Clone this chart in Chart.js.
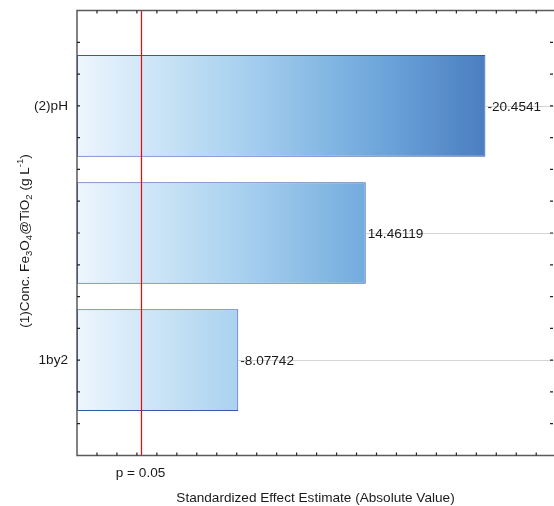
<!DOCTYPE html>
<html>
<head>
<meta charset="utf-8">
<script src="https://cdn.jsdelivr.net/npm/chart.js@4/dist/chart.umd.min.js"></script>
<style>
  body { margin: 0; background: #fff; }
  canvas { display: block; }
</style>
</head>
<body>
<canvas id="pareto" width="554" height="506"></canvas>
<script>
// Pareto chart of standardized effects
const factorNames = ['(2)pH', '(1)Conc. Fe3O4@TiO2 (g L-1)', '1by2'];
const effects = [-20.4541, 14.46119, -8.07742];
const critT = 3.182;          // t value for p = 0.05
const critLabel = 'p = 0.05';
const xTitle = 'Standardized Effect Estimate (Absolute Value)';
const xMax = 23.89;

// pieces of the long factor name: [text, -1 sub / 0 normal / 1 sup]
const concLabelParts = [
    ['(1)Conc. Fe', 0], ['3', -1], ['O', 0], ['4', -1], ['@TiO', 0], ['2', -1],
    [' (g L', 0], ['-1', 1], [')', 0]
];

const FONT = '"Liberation Sans", Arial, sans-serif';
const FONT_SIZE = 13.6;

function barGradient(context) {
    const chart = context.chart;
    if (!chart.chartArea) return '#9cc7ea';
    const xs = chart.scales.x;
    const maxAbs = Math.max(...effects.map(Math.abs));
    const g = chart.ctx.createLinearGradient(xs.getPixelForValue(0), 0, xs.getPixelForValue(maxAbs), 0);
    g.addColorStop(0, '#edf6fd');
    g.addColorStop(0.4, '#a9d1ef');
    g.addColorStop(0.7, '#74acde');
    g.addColorStop(1, '#4a7ec1');
    return g;
}

const paretoDecor = {
    id: 'paretoDecor',
    afterDatasetsDraw(chart) {
        const ctx = chart.ctx;
        const xs = chart.scales.x, ys = chart.scales.y;
        const { left, right, top, bottom } = chart.chartArea;
        const bars = chart.getDatasetMeta(0).data;

        ctx.save();
        // guide lines + value labels
        ctx.font = FONT_SIZE + 'px ' + FONT;
        ctx.textBaseline = 'middle';
        ctx.textAlign = 'left';
        bars.forEach((bar, i) => {
            ctx.strokeStyle = '#d4d4d4';
            ctx.lineWidth = 1;
            ctx.beginPath();
            ctx.moveTo(bar.x, Math.round(bar.y) + 0.5);
            ctx.lineTo(right, Math.round(bar.y) + 0.5);
            ctx.stroke();
            ctx.fillStyle = '#1a1a1a';
            ctx.fillText(String(effects[i]), bar.x + 2, bar.y + 1);
        });

        // significance line
        const px = Math.round(xs.getPixelForValue(critT)) + 0.5;
        ctx.strokeStyle = '#ff0000';
        ctx.lineWidth = 1.2;
        ctx.beginPath();
        ctx.moveTo(px, top);
        ctx.lineTo(px, bottom);
        ctx.stroke();

        // frame (right edge sits at the canvas border)
        ctx.strokeStyle = '#5a5a5a';
        ctx.lineWidth = 1.5;
        ctx.beginPath();
        ctx.moveTo(right, top);
        ctx.lineTo(left, top);
        ctx.lineTo(left, bottom);
        ctx.lineTo(right, bottom);
        ctx.stroke();

        // inward ticks
        ctx.strokeStyle = '#222';
        ctx.lineWidth = 1.2;
        ctx.beginPath();
        for (let v = 1; v < xMax; v++) {
            const x = xs.getPixelForValue(v);
            ctx.moveTo(x, top); ctx.lineTo(x, top + 3);
            ctx.moveTo(x, bottom); ctx.lineTo(x, bottom - 3);
        }
        for (let v = ys.min + 0.25; v < ys.max; v += 0.25) {
            const y = ys.getPixelForValue(v);
            ctx.moveTo(left, y); ctx.lineTo(left + 3, y);
            ctx.moveTo(right - 1, y); ctx.lineTo(right - 4, y);
        }
        ctx.stroke();

        // rotated factor name with sub/superscripts
        const small = 9.5;
        const widths = concLabelParts.map(([t, k]) => {
            ctx.font = (k ? small : FONT_SIZE) + 'px ' + FONT;
            return ctx.measureText(t).width;
        });
        const total = widths.reduce((a, b) => a + b, 0);
        ctx.translate(25.5, ys.getPixelForValue(1) + 8);
        ctx.rotate(-Math.PI / 2);
        ctx.fillStyle = '#1a1a1a';
        ctx.textBaseline = 'middle';
        let cx = -total / 2;
        concLabelParts.forEach(([t, k], i) => {
            ctx.font = (k ? small : FONT_SIZE) + 'px ' + FONT;
            const dy = k === -1 ? 4 : (k === 1 ? -5 : 0);
            ctx.fillText(t, cx, dy);
            cx += widths[i];
        });
        ctx.restore();
    }
};

new Chart(document.getElementById('pareto'), {
    type: 'bar',
    data: {
        datasets: [{
            data: effects.map((v, i) => ({ x: Math.abs(v), y: i })),
            backgroundColor: barGradient,
            borderColor: '#3557ad',
            borderWidth: 1,
            borderSkipped: false,
            categoryPercentage: 0.8,
            barPercentage: 1
        }]
    },
    options: {
        indexAxis: 'y',
        responsive: false,
        animation: false,
        devicePixelRatio: 1,
        layout: { padding: { top: 10.5, right: 0, left: 0, bottom: 0 } },
        plugins: { legend: { display: false }, tooltip: { enabled: false } },
        scales: {
            x: {
                type: 'linear',
                min: 0,
                max: xMax,
                offset: false,
                grid: { display: false },
                border: { display: false },
                afterBuildTicks: s => { s.ticks = [{ value: critT }]; },
                afterFit: s => {
                    s.height = 50.5;
                    s.paddingLeft = 0;
                    s.paddingRight = 0;
                },
                ticks: {
                    callback: () => critLabel,
                    font: { family: FONT, size: FONT_SIZE },
                    color: '#1a1a1a',
                    padding: 2,
                    maxRotation: 0,
                    autoSkip: false
                },
                title: {
                    display: true,
                    text: xTitle,
                    font: { family: FONT, size: FONT_SIZE },
                    color: '#1a1a1a',
                    padding: { top: 0, bottom: 0 }
                }
            },
            y: {
                type: 'linear',
                min: -0.75,
                max: 2.75,
                reverse: true,
                offset: false,
                grid: { display: false, offset: false },
                border: { display: false },
                afterBuildTicks: s => { s.ticks = [{ value: 0 }, { value: 2 }]; },
                afterFit: s => {
                    s.width = 77;
                    s.paddingTop = 0;
                    s.paddingBottom = 0;
                },
                ticks: {
                    callback: v => factorNames[v],
                    font: { family: FONT, size: FONT_SIZE },
                    color: '#1a1a1a',
                    padding: 1
                }
            }
        }
    },
    plugins: [paretoDecor]
});
</script>
</body>
</html>
